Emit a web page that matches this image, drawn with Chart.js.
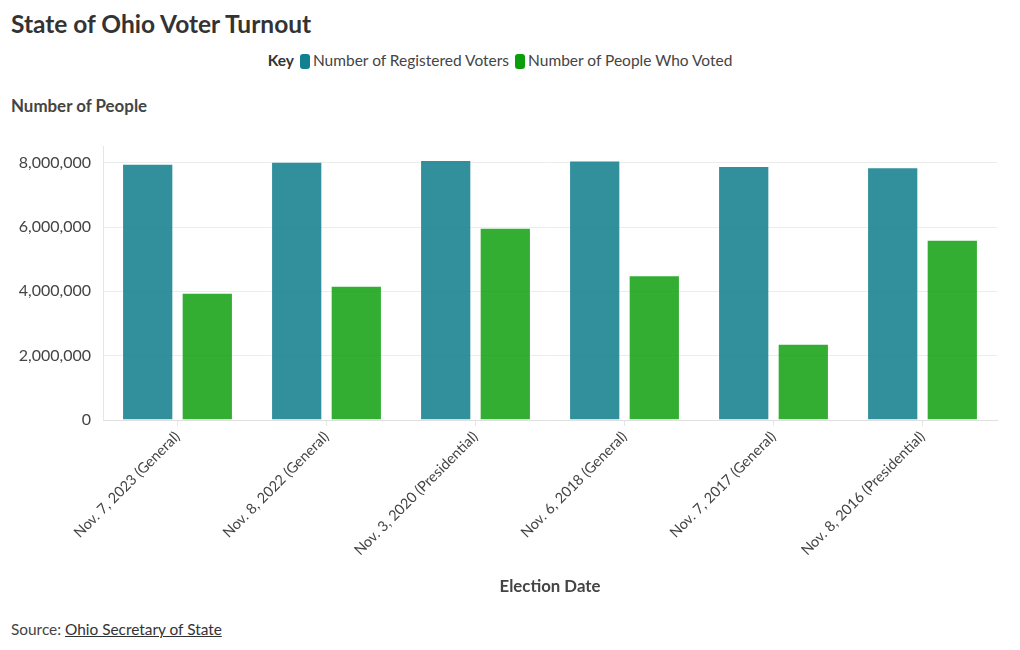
<!DOCTYPE html>
<html>
<head>
<meta charset="utf-8">
<script src="https://cdn.jsdelivr.net/npm/chart.js@4.4.1/dist/chart.umd.min.js"></script>
<style>
  html, body { margin: 0; padding: 0; background: #fff; }
  body { width: 1020px; height: 650px; position: relative; overflow: hidden; font-family: Lato, "Noto Sans", sans-serif; color: #333; }
  #title { position: absolute; left: 11px; top: 9px; font-size: 24.5px; font-weight: 700; color: #333; white-space: nowrap; }
  #legend { position: absolute; left: 0; width: 1006px; top: 51px; text-align: center; font-size: 15.5px; color: #444; white-space: nowrap; }
  #legend .key { font-weight: 700; color: #333; margin-right: 6px; }
  #legend .item { margin-right: 6px; }
  #legend .sw { display: inline-block; width: 10px; height: 15px; border-radius: 3px; vertical-align: -3px; margin-right: 3px; }
  #ytitle { position: absolute; left: 11px; top: 95px; font-size: 16.9px; font-weight: 700; color: #444; z-index: 2; }
  #source { position: absolute; left: 11px; top: 620px; font-size: 15.4px; color: #444; }
  #source a { color: #333; text-decoration: underline; }
  #wrap { position: absolute; left: 0; top: 125px; width: 1020px; height: 485px; }
</style>
</head>
<body>
<div id="title">State of Ohio Voter Turnout</div>
<div id="legend"></div>
<div id="wrap"><canvas id="c"></canvas></div>
<div id="ytitle">Number of People</div>
<div id="source">Source: <a>Ohio Secretary of State</a></div>
<script>
const categories = [
  "Nov. 7, 2023 (General)",
  "Nov. 8, 2022 (General)",
  "Nov. 3, 2020 (Presidential)",
  "Nov. 6, 2018 (General)",
  "Nov. 7, 2017 (General)",
  "Nov. 8, 2016 (Presidential)"
];
const seriesNames = ["Number of Registered Voters", "Number of People Who Voted"];
const registeredVoters = [7966000, 8030000, 8080000, 8071000, 7893000, 7861000];
const peopleWhoVoted = [3955000, 4175000, 5974000, 4497000, 2370000, 5607000];
const yTickValues = [0, 2000000, 4000000, 6000000, 8000000];
const swatchColors = ["#13808f", "#0a9e0a"];
const barColors = ["rgba(19,128,143,0.87)", "rgba(10,158,10,0.83)"];

// HTML legend
const lg = document.getElementById('legend');
lg.innerHTML = '<span class="key">Key</span>' + seriesNames.map((n, i) =>
  '<span class="item"><span class="sw" style="background:' + swatchColors[i] + '"></span>' + n + '</span>').join('');

const ctx = document.getElementById('c');
new Chart(ctx, {
  type: 'bar',
  data: {
    labels: categories,
    datasets: [
      { label: seriesNames[0], data: registeredVoters, backgroundColor: barColors[0], borderColor: 'rgba(255,255,255,0.35)', borderWidth: 1, categoryPercentage: 0.8, barPercentage: 0.86 },
      { label: seriesNames[1], data: peopleWhoVoted, backgroundColor: barColors[1], borderColor: 'rgba(255,255,255,0.35)', borderWidth: 1, categoryPercentage: 0.8, barPercentage: 0.86 }
    ]
  },
  options: {
    responsive: true,
    maintainAspectRatio: false,
    animation: false,
    layout: { padding: { left: 0, right: 23, top: 7, bottom: 0 } },
    plugins: { legend: { display: false }, tooltip: { enabled: false } },
    scales: {
      x: {
        grid: { display: true, offset: false, drawOnChartArea: false, drawTicks: true, tickLength: 6, color: '#e6e6e6' },
        border: { display: true, color: '#e0e0e0' },
        ticks: { maxRotation: 45, minRotation: 45, autoSkip: false, color: '#444', font: { family: 'Lato', size: 14.5 }, padding: 2 },
        title: { display: true, text: 'Election Date', color: '#444', font: { family: 'Lato', size: 16.8, weight: 'bold' }, padding: { top: 0, bottom: 13 } },
        afterFit: (s) => { s.height = 190; }
      },
      y: {
        min: 0,
        max: 8500000,
        afterBuildTicks: (s) => { s.ticks = yTickValues.map(v => ({ value: v })); },
        grid: { color: '#ececec', drawTicks: false },
        border: { display: true, color: '#e6e6e6' },
        ticks: { color: '#444', font: { family: 'Lato', size: 16 }, padding: 12,
          callback: (v) => Number(v).toLocaleString('en-US') },
        afterFit: (s) => { s.width = 103; }
      }
    }
  }
});
</script>
</body>
</html>
